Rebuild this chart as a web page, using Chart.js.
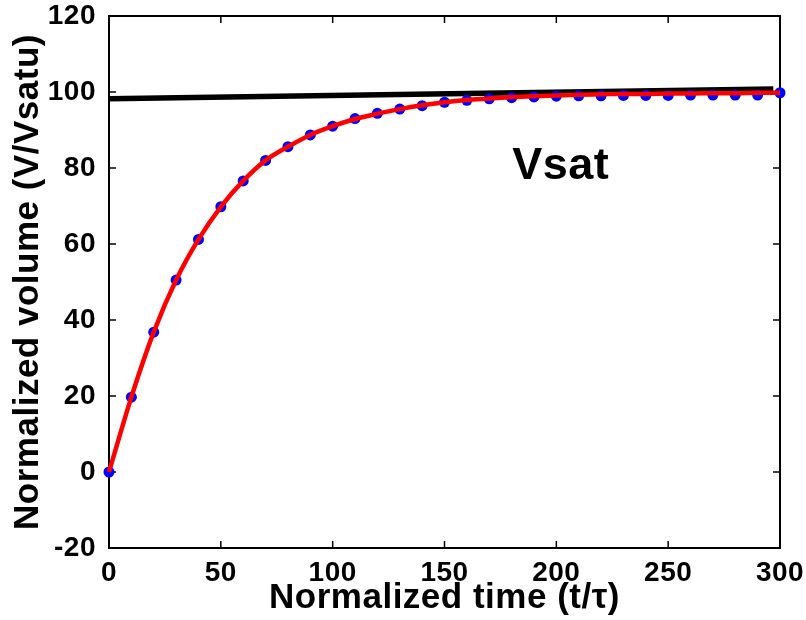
<!DOCTYPE html>
<html>
<head>
<meta charset="utf-8">
<script src="https://cdn.jsdelivr.net/npm/chart.js@4.4.1/dist/chart.umd.min.js"></script>
<style>
  html, body { margin: 0; padding: 0; background: #fff; }
  #wrap { width: 806px; height: 620px; }
</style>
</head>
<body>
<div id="wrap"><canvas id="satChart" width="806" height="620"></canvas></div>
<script>
// normalized time, step of 10
var times = [0, 10, 20, 30, 40, 50, 60, 70, 80, 90, 100, 110, 120, 130, 140, 150,
  160, 170, 180, 190, 200, 210, 220, 230, 240, 250, 260, 270, 280, 290, 300];
// measured points (blue dots)
var measured = [0, 19.7, 36.8, 50.5, 61.2, 69.8, 76.6, 82.0, 85.6, 88.7, 91.0, 93.0,
  94.4, 95.5, 96.4, 97.3, 97.8, 98.2, 98.5, 98.7, 98.9, 99.0, 99.0, 99.1, 99.1, 99.1,
  99.2, 99.2, 99.2, 99.2, 99.8];
// fitted curve (red)
var fitted = [0, 19.7, 36.8, 50.5, 61.2, 69.8, 76.6, 82.0, 85.6, 88.7, 91.0, 92.9,
  94.3, 95.5, 96.5, 97.3, 97.9, 98.3, 98.7, 98.9, 99.1, 99.3, 99.4, 99.5, 99.5, 99.6,
  99.6, 99.7, 99.7, 99.8, 99.8];
// saturation line (black)
var satX = [0, 297];
var satY = [98.2, 100.8];
var xTicks = [0, 50, 100, 150, 200, 250, 300];
var yTicks = [-20, 0, 20, 40, 60, 80, 100, 120];
var satLabel = { text: 'Vsat', x: 202, y: 80.5 };

function pairs(xs, ys) {
  return xs.map(function (x, i) { return { x: x, y: ys[i] }; });
}

Chart.defaults.font.family = "'Liberation Sans', Arial, sans-serif";
Chart.defaults.color = '#000';

// MATLAB-like box with inward ticks
var framePlugin = {
  id: 'frame',
  beforeDraw: function (chart) {
    chart.ctx.letterSpacing = '0.5px';
  },
  beforeDatasetsDraw: function (chart) {
    var ctx = chart.ctx, a = chart.chartArea;
    var xs = chart.scales.x, ys = chart.scales.y;
    ctx.save();
    ctx.strokeStyle = '#000';
    ctx.lineWidth = 2;
    ctx.strokeRect(a.left, a.top, a.right - a.left, a.bottom - a.top);
    ctx.lineWidth = 1.5;
    ctx.beginPath();
    xTicks.forEach(function (v) {
      var px = xs.getPixelForValue(v);
      ctx.moveTo(px, a.bottom); ctx.lineTo(px, a.bottom - 7);
      ctx.moveTo(px, a.top); ctx.lineTo(px, a.top + 7);
    });
    yTicks.forEach(function (v) {
      var py = ys.getPixelForValue(v);
      ctx.moveTo(a.left, py); ctx.lineTo(a.left + 7, py);
      ctx.moveTo(a.right, py); ctx.lineTo(a.right - 7, py);
    });
    ctx.stroke();
    ctx.restore();
  },
  afterDatasetsDraw: function (chart) {
    var ctx = chart.ctx;
    ctx.save();
    ctx.font = "bold 45px 'Liberation Sans', Arial, sans-serif";
    ctx.fillStyle = '#000';
    ctx.textAlign = 'center';
    ctx.textBaseline = 'middle';
    ctx.fillText(satLabel.text, chart.scales.x.getPixelForValue(satLabel.x),
      chart.scales.y.getPixelForValue(satLabel.y));
    ctx.restore();
  }
};

var ctx = document.getElementById('satChart').getContext('2d');
var satChart = new Chart(ctx, {
  type: 'scatter',
  data: {
    datasets: [{
      label: 'fit',
      data: pairs(times, fitted),
      showLine: true,
      borderColor: '#ff0000',
      borderWidth: 4.5,
      pointRadius: 0,
      cubicInterpolationMode: 'monotone',
      clip: false,
      order: 0
    }, {
      label: 'measured',
      data: pairs(times, measured),
      showLine: false,
      pointRadius: 5.5,
      pointBackgroundColor: '#0000ff',
      pointBorderWidth: 0,
      clip: false,
      order: 1
    }, {
      label: 'Vsat',
      data: pairs(satX, satY),
      showLine: true,
      borderColor: '#000',
      borderWidth: 5.5,
      pointRadius: 0,
      clip: false,
      order: 2
    }]
  },
  options: {
    responsive: false,
    animation: false,
    layout: {
      padding: { top: 16, right: 26, left: 0, bottom: 0 }
    },
    plugins: {
      legend: {
        display: false
      },
      tooltip: {
        enabled: false
      }
    },
    scales: {
      x: {
        type: 'linear',
        min: 0,
        max: 300,
        grid: { display: false },
        border: { display: false },
        afterBuildTicks: function (s) { s.ticks = xTicks.map(function (v) { return { value: v }; }); },
        afterFit: function (s) { s.height = 72; s.paddingLeft = 0; s.paddingRight = 0; },
        ticks: {
          padding: 0,
          maxRotation: 0,
          font: { size: 28, weight: 'bold' }
        },
        title: {
          display: true,
          text: 'Normalized time (t/\u03c4)',
          padding: { top: 0, bottom: 1 },
          font: { size: 35, weight: 'bold' }
        }
      },
      y: {
        min: -20,
        max: 120,
        grid: { display: false },
        border: { display: false },
        afterBuildTicks: function (s) { s.ticks = yTicks.map(function (v) { return { value: v }; }); },
        afterFit: function (s) { s.width = 109; s.paddingTop = 0; s.paddingBottom = 0; },
        ticks: {
          padding: 5,
          font: { size: 28, weight: 'bold' }
        },
        title: {
          display: true,
          text: 'Normalized volume (V/Vsatu)',
          padding: { top: 7, bottom: 0 },
          font: { size: 35, weight: 'bold' }
        }
      }
    }
  },
  plugins: [framePlugin]
});
</script>
</body>
</html>
